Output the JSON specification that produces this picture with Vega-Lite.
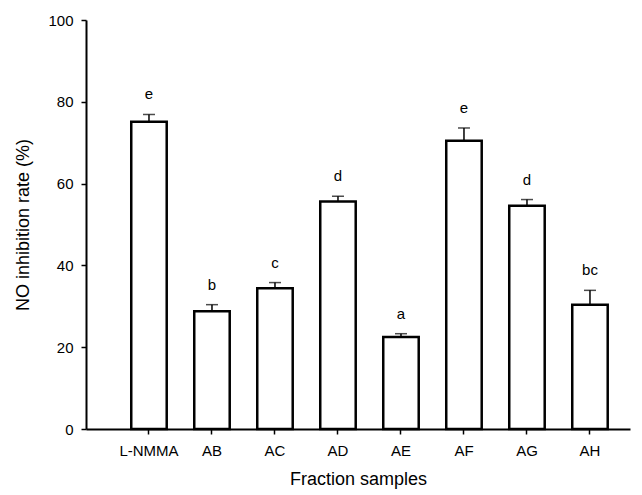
{
  "$schema": "https://vega.github.io/schema/vega-lite/v6.json",
  "width": 544,
  "height": 409,
  "autosize": {"type": "none"},
  "padding": {"left": 86, "top": 20, "right": 12, "bottom": 66},
  "background": "white",
  "config": {
    "view": {"stroke": null},
    "font": "Liberation Sans",
    "axis": {
      "domainColor": "black",
      "domainWidth": 2,
      "tickColor": "black",
      "tickWidth": 1.5,
      "tickSize": 5,
      "labelColor": "black",
      "labelFont": "Liberation Sans",
      "labelFontSize": 15,
      "titleColor": "black",
      "titleFont": "Liberation Sans",
      "titleFontSize": 18,
      "titleFontWeight": "normal",
      "grid": false
    }
  },
  "data": {
    "values": [
      {"sample": "L-NMMA", "value": 75.1, "upper": 76.9, "group": "e"},
      {"sample": "AB", "value": 28.8, "upper": 30.4, "group": "b"},
      {"sample": "AC", "value": 34.4, "upper": 35.8, "group": "c"},
      {"sample": "AD", "value": 55.6, "upper": 56.9, "group": "d"},
      {"sample": "AE", "value": 22.5, "upper": 23.3, "group": "a"},
      {"sample": "AF", "value": 70.5, "upper": 73.6, "group": "e"},
      {"sample": "AG", "value": 54.6, "upper": 56.1, "group": "d"},
      {"sample": "AH", "value": 30.4, "upper": 33.9, "group": "bc"}
    ]
  },
  "encoding": {
    "x": {
      "field": "sample",
      "type": "nominal",
      "sort": null,
      "scale": {"paddingInner": 0.437, "paddingOuter": 0.536, "align": 0.67},
      "axis": {"title": "Fraction samples", "labelAngle": 0, "labelPadding": 9, "titlePadding": 12}
    }
  },
  "layer": [
    {
      "mark": {"type": "rule", "color": "black", "strokeWidth": 1.5},
      "encoding": {
        "y": {"field": "value", "type": "quantitative"},
        "y2": {"field": "upper"}
      }
    },
    {
      "mark": {"type": "bar", "fill": "white", "stroke": "black", "strokeWidth": 2.5},
      "encoding": {
        "y": {
          "field": "value",
          "type": "quantitative",
          "scale": {"domain": [0, 100]},
          "axis": {"title": "NO inhibition rate (%)", "values": [0, 20, 40, 60, 80, 100], "labelPadding": 8, "titlePadding": 15}
        }
      }
    },
    {
      "mark": {"type": "tick", "color": "black", "size": 12, "thickness": 1.5},
      "encoding": {"y": {"field": "upper", "type": "quantitative"}}
    },
    {
      "mark": {"type": "text", "dy": -20, "fontSize": 15, "color": "black", "font": "Liberation Sans"},
      "encoding": {
        "y": {"field": "upper", "type": "quantitative"},
        "text": {"field": "group"}
      }
    }
  ]
}
